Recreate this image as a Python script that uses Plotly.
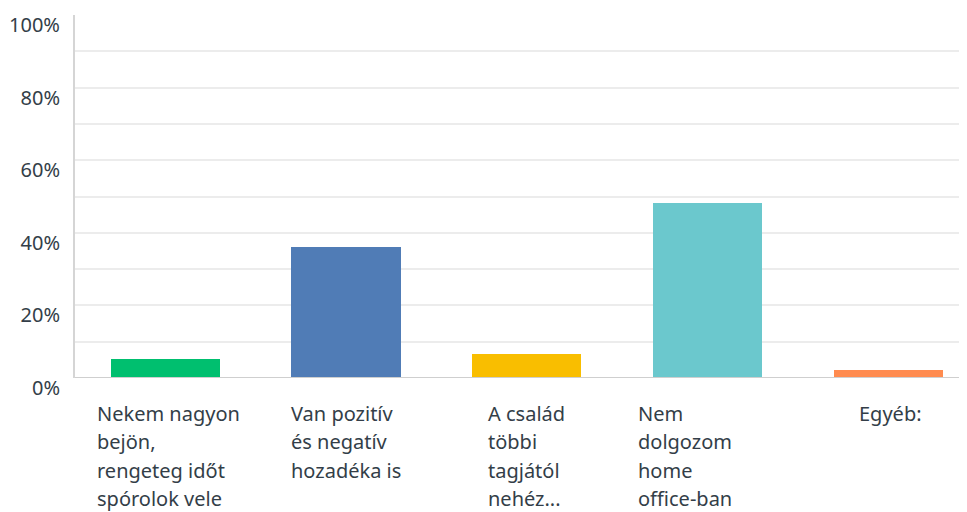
import plotly.graph_objects as go

categories = [
    "Nekem nagyon<br>bejön,<br>rengeteg időt<br>spórolok vele",
    "Van pozitív<br>és negatív<br>hozadéka is",
    "A család<br>többi<br>tagjától<br>nehéz...",
    "Nem<br>dolgozom<br>home<br>office-ban",
    "Egyéb:",
]
values = [5.1, 36.0, 6.5, 48.1, 2.1]
colors = ["#00bf6f", "#507cb6", "#f9be00", "#6bc8cd", "#ff8b4f"]
ytick_vals = [0, 20, 40, 60, 80, 100]
ytick_text = ["0%", "20%", "40%", "60%", "80%", "100%"]

# label placement tweaks (px), labels are left aligned blocks under bars
label_shift = [-70, -57, -41, -72, -31]
line_step = 28.5

text_color = "#333e48"
font_family = "Noto Sans, Open Sans, sans-serif"

x = list(range(len(categories)))

fig = go.Figure()
fig.add_trace(go.Bar(x=x,
                     y=values,
                     marker_color=colors,
                     marker_line_width=0,
                     width=0.604,
                     hoverinfo="skip"))

# one annotation per text line, so the line spacing can match
for i, lab in enumerate(categories):
    for k, part in enumerate(lab.split("<br>")):
        fig.add_annotation(x=i, y=0,
                           text=part,
                           showarrow=False,
                           xanchor="left",
                           yanchor="middle",
                           align="left",
                           xshift=label_shift[i],
                           yshift=-35 - k * line_step,
                           font=dict(family=font_family, size=20, color=text_color))

fig.update_xaxes(range=[-0.5, 4.436],
                 showticklabels=False,
                 showgrid=False,
                 zeroline=False,
                 showline=False,
                 automargin=False,
                 fixedrange=True)
fig.update_yaxes(range=[0, 100],
                 tickvals=ytick_vals,
                 ticktext=ytick_text,
                 ticks="",
                 ticklabelshift=10,
                 ticklabelstandoff=9,
                 tickfont=dict(family=font_family, size=20, color=text_color),
                 showgrid=True,
                 gridcolor="#ececec",
                 gridwidth=1.5,
                 minor=dict(dtick=10, showgrid=True, gridcolor="#ececec", gridwidth=1.5),
                 zeroline=False,
                 showline=True,
                 linecolor="#d5d5d5",
                 linewidth=2,
                 automargin=False,
                 fixedrange=True)

# bottom axis line
fig.add_hline(y=0, line_color="#cfcfcf", line_width=2)

# the page puts the figure 8px in from the top-left corner
fig.update_layout(width=959,
                  height=504,
                  margin=dict(l=67, r=0, t=7, b=134),
                  plot_bgcolor="white",
                  paper_bgcolor="white",
                  showlegend=False,
                  bargap=0)

fig.write_html("out.html")
